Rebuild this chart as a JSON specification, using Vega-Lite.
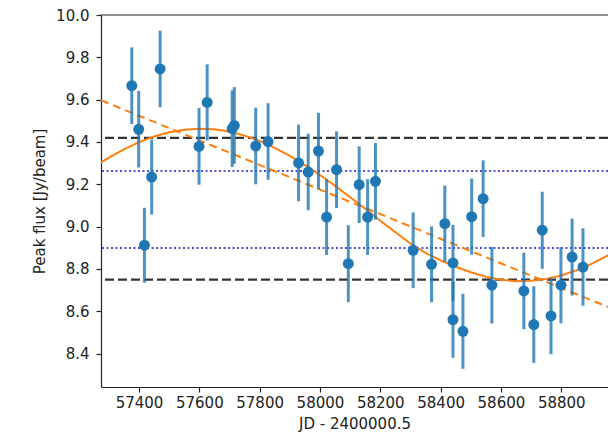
{
  "$schema": "https://vega.github.io/schema/vega-lite/v6.json",
  "width": 507,
  "height": 372,
  "autosize": {"type": "none"},
  "padding": {"left": 101, "top": 15, "right": 0, "bottom": 53},
  "background": "white",
  "config": {
    "font": "DejaVu Sans",
    "view": {"stroke": null},
    "axis": {
      "grid": false,
      "labelFont": "DejaVu Sans",
      "titleFont": "DejaVu Sans",
      "labelFontSize": 15,
      "titleFontSize": 15,
      "titleFontWeight": "normal",
      "labelColor": "#222",
      "titleColor": "#222",
      "domainColor": "#222",
      "tickColor": "#222",
      "domainWidth": 1.2,
      "tickWidth": 1.2,
      "tickSize": 5
    }
  },
  "datasets": {
    "points": [
      {"jd": 57376, "flux": 9.666, "err": 0.181},
      {"jd": 57399, "flux": 9.460, "err": 0.181},
      {"jd": 57418, "flux": 8.912, "err": 0.177},
      {"jd": 57442, "flux": 9.234, "err": 0.177},
      {"jd": 57470, "flux": 9.745, "err": 0.181},
      {"jd": 57599, "flux": 9.379, "err": 0.181},
      {"jd": 57626, "flux": 9.587, "err": 0.18},
      {"jd": 57709, "flux": 9.463, "err": 0.181},
      {"jd": 57716, "flux": 9.478, "err": 0.181},
      {"jd": 57787, "flux": 9.381, "err": 0.181},
      {"jd": 57828, "flux": 9.402, "err": 0.181},
      {"jd": 57929, "flux": 9.301, "err": 0.181},
      {"jd": 57961, "flux": 9.258, "err": 0.181},
      {"jd": 57995, "flux": 9.357, "err": 0.181},
      {"jd": 58022, "flux": 9.045, "err": 0.179},
      {"jd": 58055, "flux": 9.269, "err": 0.181},
      {"jd": 58094, "flux": 8.825, "err": 0.182},
      {"jd": 58130, "flux": 9.198, "err": 0.181},
      {"jd": 58158, "flux": 9.045, "err": 0.179},
      {"jd": 58184, "flux": 9.214, "err": 0.181},
      {"jd": 58309, "flux": 8.888, "err": 0.179},
      {"jd": 58370, "flux": 8.822, "err": 0.179},
      {"jd": 58414, "flux": 9.014, "err": 0.18},
      {"jd": 58441, "flux": 8.828, "err": 0.18},
      {"jd": 58441, "flux": 8.560, "err": 0.18},
      {"jd": 58474, "flux": 8.505, "err": 0.177},
      {"jd": 58503, "flux": 9.047, "err": 0.18},
      {"jd": 58541, "flux": 9.132, "err": 0.181},
      {"jd": 58570, "flux": 8.723, "err": 0.181},
      {"jd": 58676, "flux": 8.696, "err": 0.181},
      {"jd": 58709, "flux": 8.537, "err": 0.181},
      {"jd": 58737, "flux": 8.983, "err": 0.182},
      {"jd": 58766, "flux": 8.578, "err": 0.181},
      {"jd": 58799, "flux": 8.723, "err": 0.18},
      {"jd": 58836, "flux": 8.856, "err": 0.182},
      {"jd": 58872, "flux": 8.809, "err": 0.183}
    ],
    "sine": [
      {"jd": 57250, "flux": 9.282},
      {"jd": 57300, "flux": 9.326},
      {"jd": 57350, "flux": 9.365},
      {"jd": 57400, "flux": 9.399},
      {"jd": 57450, "flux": 9.426},
      {"jd": 57500, "flux": 9.446},
      {"jd": 57550, "flux": 9.458},
      {"jd": 57600, "flux": 9.463},
      {"jd": 57650, "flux": 9.460},
      {"jd": 57700, "flux": 9.449},
      {"jd": 57750, "flux": 9.430},
      {"jd": 57800, "flux": 9.405},
      {"jd": 57850, "flux": 9.372},
      {"jd": 57900, "flux": 9.334},
      {"jd": 57950, "flux": 9.291},
      {"jd": 58000, "flux": 9.244},
      {"jd": 58050, "flux": 9.193},
      {"jd": 58100, "flux": 9.139},
      {"jd": 58150, "flux": 9.084},
      {"jd": 58200, "flux": 9.028},
      {"jd": 58250, "flux": 8.973},
      {"jd": 58300, "flux": 8.920},
      {"jd": 58350, "flux": 8.876},
      {"jd": 58400, "flux": 8.840},
      {"jd": 58450, "flux": 8.810},
      {"jd": 58500, "flux": 8.784},
      {"jd": 58550, "flux": 8.763},
      {"jd": 58600, "flux": 8.749},
      {"jd": 58650, "flux": 8.742},
      {"jd": 58700, "flux": 8.744},
      {"jd": 58750, "flux": 8.753},
      {"jd": 58800, "flux": 8.769},
      {"jd": 58850, "flux": 8.793},
      {"jd": 58900, "flux": 8.824},
      {"jd": 58950, "flux": 8.861},
      {"jd": 59000, "flux": 8.903}
    ],
    "trend": [
      {"jd": 57274, "flux": 9.597},
      {"jd": 58955, "flux": 8.620}
    ],
    "blackLines": [{"flux": 9.419}, {"flux": 8.749}],
    "blueLines": [{"flux": 9.263}, {"flux": 8.899}],
    "frame": [{"flux": 10.0}]
  },
  "layer": [
    {
      "data": {"name": "blackLines"},
      "mark": {"type": "rule", "color": "#000000", "opacity": 0.8, "strokeWidth": 2.3, "strokeDash": [9, 4]},
      "encoding": {
        "y": {
          "field": "flux",
          "type": "quantitative",
          "title": "Peak flux [Jy/beam]",
          "scale": {"domain": [8.242, 10.0], "nice": false, "zero": false},
          "axis": {
            "title": "Peak flux [Jy/beam]",
            "values": [8.4, 8.6, 8.8, 9.0, 9.2, 9.4, 9.6, 9.8, 10.0],
            "format": ".1f",
            "labelPadding": 7,
            "titlePadding": 8
          }
        }
      }
    },
    {
      "data": {"name": "blueLines"},
      "mark": {"type": "rule", "color": "#2222cc", "opacity": 0.8, "strokeWidth": 2, "strokeDash": [2, 2.5]},
      "encoding": {
        "y": {"field": "flux", "type": "quantitative", "title": "Peak flux [Jy/beam]"}
      }
    },
    {
      "data": {"name": "sine"},
      "mark": {"type": "line", "color": "#ff7f0e", "strokeWidth": 2, "clip": true},
      "encoding": {
        "x": {
          "field": "jd",
          "type": "quantitative",
          "title": "JD - 2400000.5",
          "scale": {"domain": [57274, 58955], "nice": false, "zero": false},
          "axis": {
            "title": "JD - 2400000.5",
            "values": [57400, 57600, 57800, 58000, 58200, 58400, 58600, 58800],
            "format": "d",
            "labelPadding": 3,
            "titlePadding": 6
          }
        },
        "y": {"field": "flux", "type": "quantitative", "title": "Peak flux [Jy/beam]"}
      }
    },
    {
      "data": {"name": "trend"},
      "mark": {"type": "line", "color": "#ff7f0e", "strokeWidth": 2, "strokeDash": [8, 5], "clip": true},
      "encoding": {
        "x": {"field": "jd", "type": "quantitative", "title": "JD - 2400000.5"},
        "y": {"field": "flux", "type": "quantitative", "title": "Peak flux [Jy/beam]"}
      }
    },
    {
      "data": {"name": "points"},
      "mark": {"type": "errorbar", "color": "#1f77b4", "opacity": 0.8, "thickness": 3},
      "encoding": {
        "x": {"field": "jd", "type": "quantitative", "title": "JD - 2400000.5"},
        "y": {"field": "flux", "type": "quantitative", "title": "Peak flux [Jy/beam]"},
        "yError": {"field": "err"}
      }
    },
    {
      "data": {"name": "points"},
      "mark": {"type": "circle", "color": "#1f77b4", "opacity": 1, "size": 120},
      "encoding": {
        "x": {"field": "jd", "type": "quantitative", "title": "JD - 2400000.5"},
        "y": {"field": "flux", "type": "quantitative", "title": "Peak flux [Jy/beam]"}
      }
    },
    {
      "data": {"name": "frame"},
      "mark": {"type": "rule", "color": "#222", "strokeWidth": 1.2},
      "encoding": {
        "y": {"field": "flux", "type": "quantitative", "title": "Peak flux [Jy/beam]"}
      }
    }
  ]
}
